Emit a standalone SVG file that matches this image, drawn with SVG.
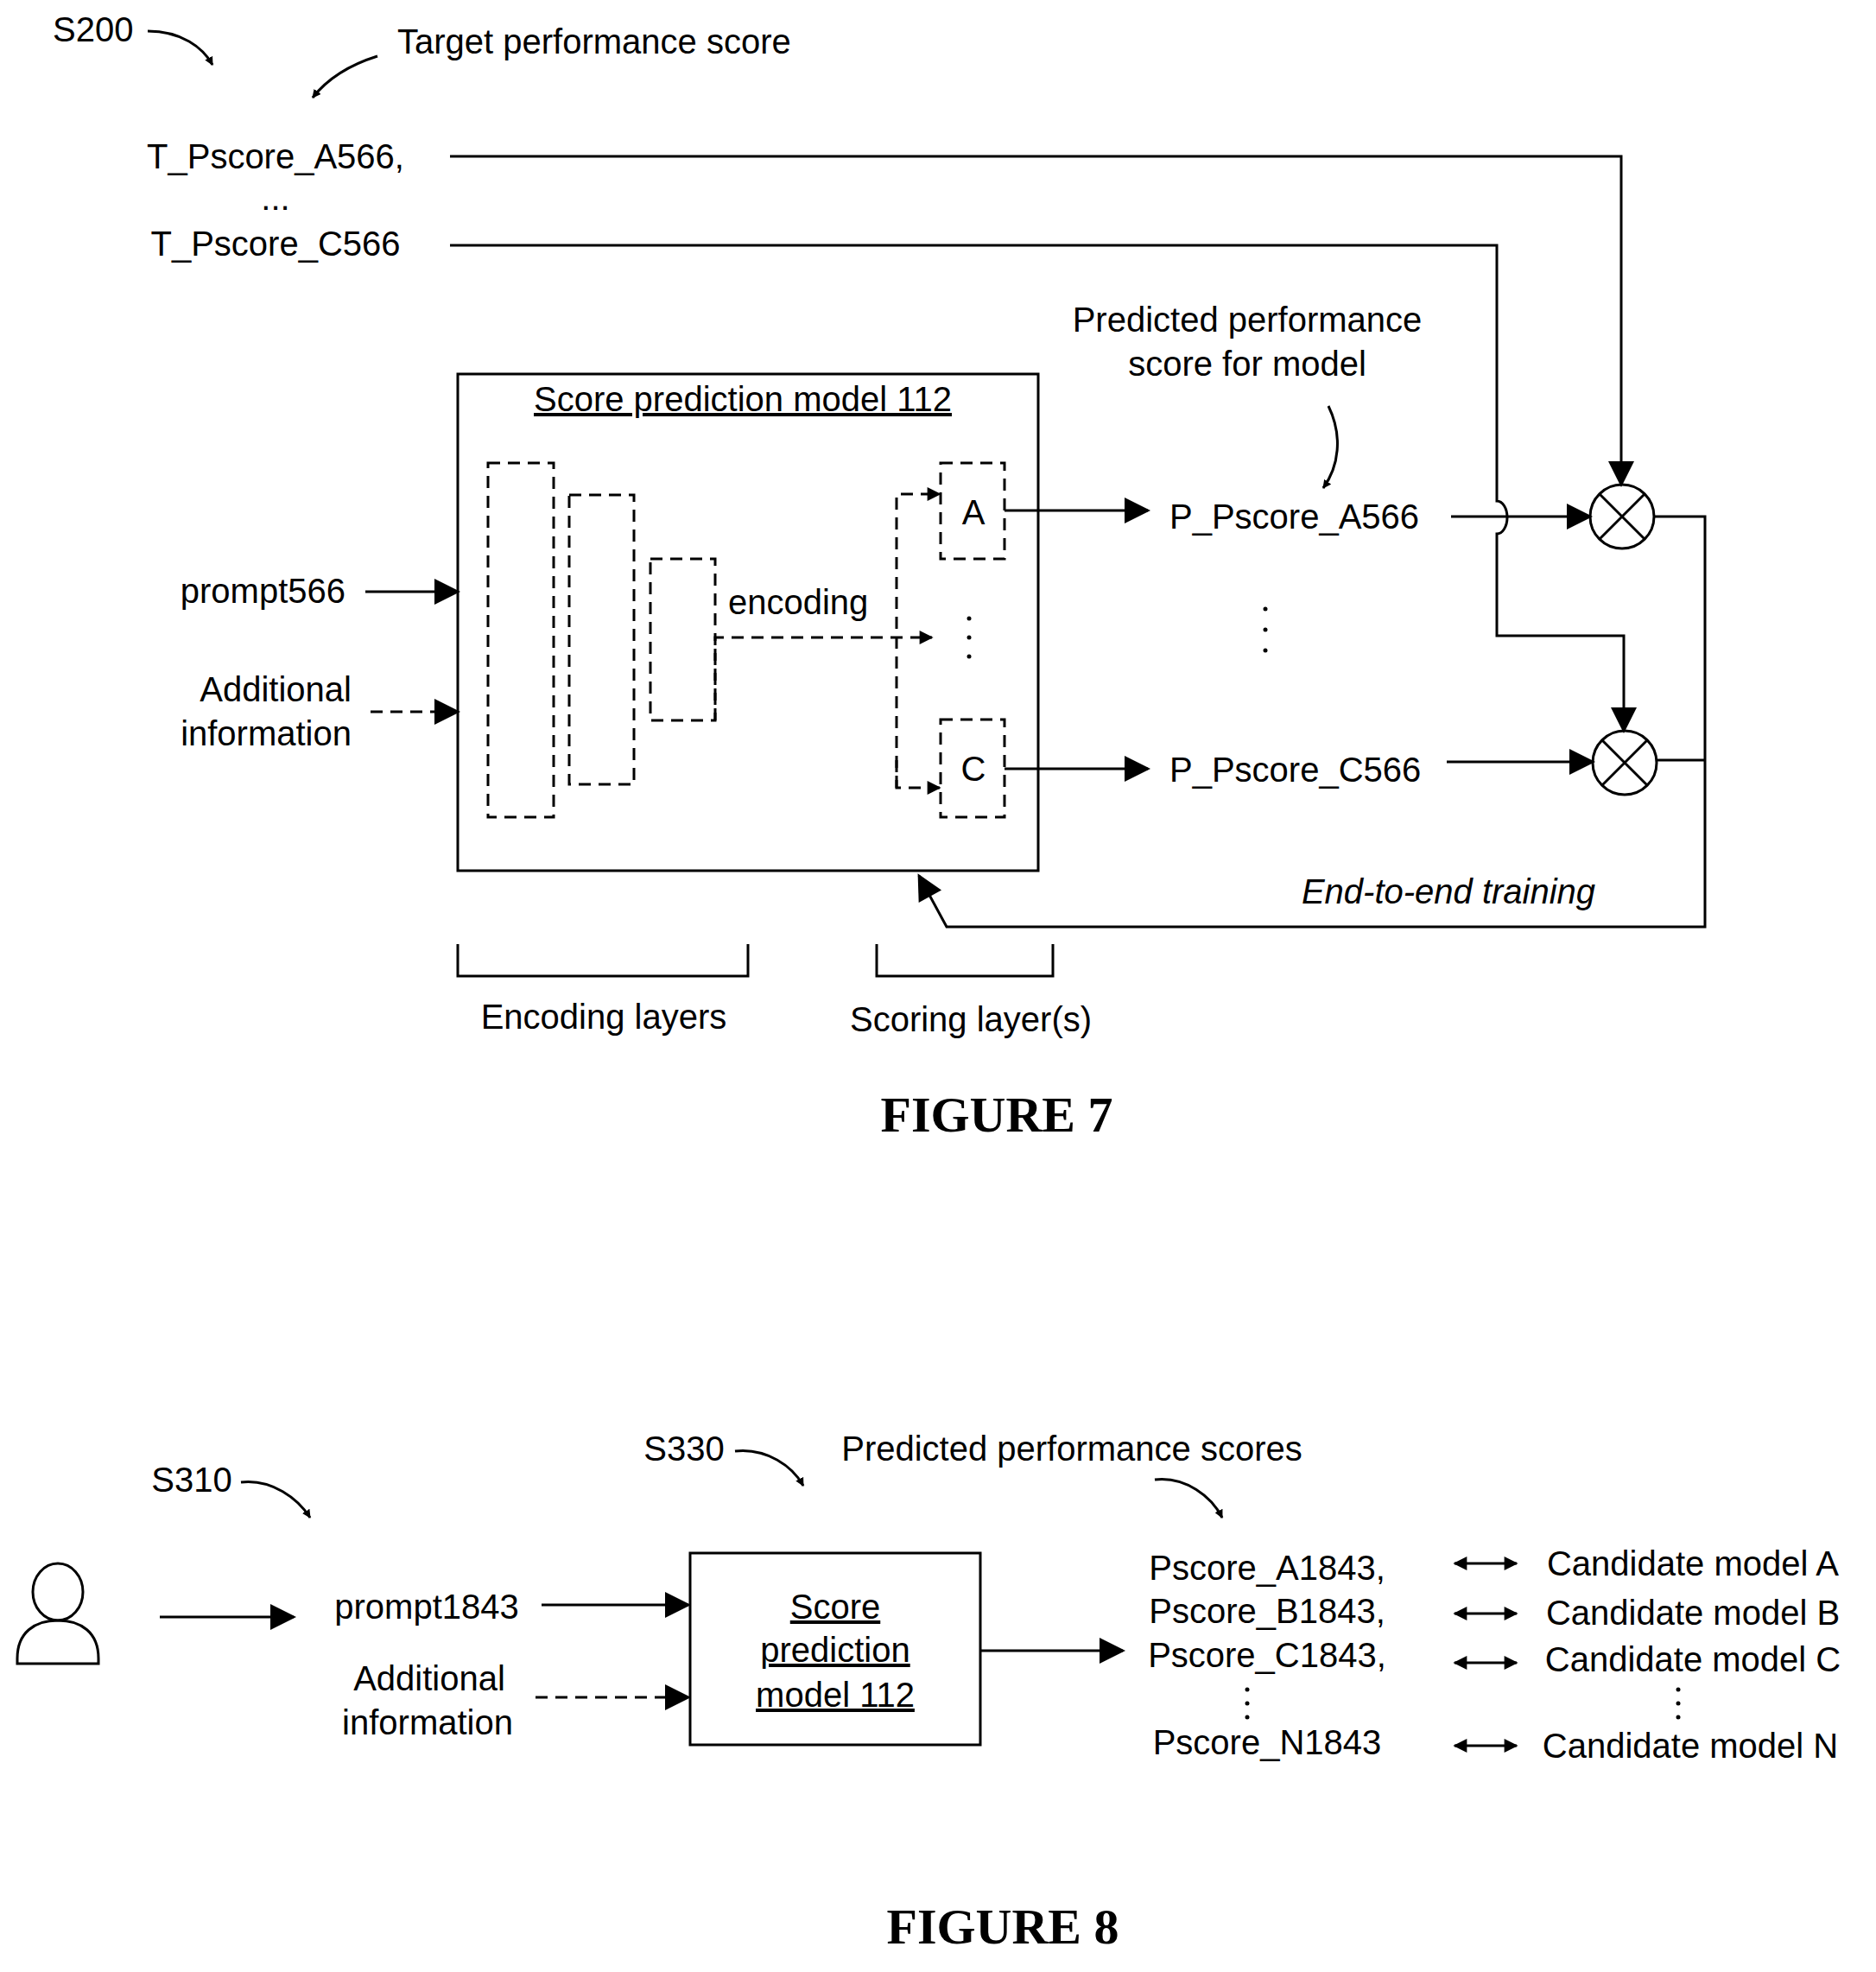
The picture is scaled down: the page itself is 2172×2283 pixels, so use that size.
<svg xmlns="http://www.w3.org/2000/svg" width="2172" height="2283" viewBox="0 0 2172 2283">
<defs>
<marker id="ah" viewBox="0 0 10 10" refX="9" refY="5" markerWidth="10" markerHeight="10" markerUnits="userSpaceOnUse" orient="auto"><path d="M0,0 L10,5 L0,10 z" fill="#000"/></marker>
<marker id="big" viewBox="0 0 10 10" refX="9" refY="5" markerWidth="36" markerHeight="30" markerUnits="userSpaceOnUse" orient="auto"><path d="M0,0 L10,5 L0,10 z" fill="#000"/></marker>
<marker id="sm" viewBox="0 0 10 10" refX="9" refY="5" markerWidth="18" markerHeight="16" markerUnits="userSpaceOnUse" orient="auto-start-reverse"><path d="M0,0 L10,5 L0,10 z" fill="#000"/></marker>
</defs>
<style>
text{font-family:"Liberation Sans",Arial,sans-serif;font-size:40px;fill:#000}
.m{text-anchor:middle}.e{text-anchor:end}
.fig{font-family:"Liberation Serif","Times New Roman",serif;font-weight:bold;font-size:58px}
.l{fill:none;stroke:#000;stroke-width:3}
.d{fill:none;stroke:#000;stroke-width:3;stroke-dasharray:14 9}
.cur{fill:none;stroke:#000;stroke-width:3;marker-end:url(#ah)}
</style>
<rect width="2172" height="2283" fill="#fff"/>
<g id="fig7">
<g id="labels7">
<text x="61" y="48">S200</text>
<text x="460" y="62">Target performance score</text>
<text class="m" x="319" y="195">T_Pscore_A566,</text>
<text class="m" x="319" y="243">...</text>
<text class="m" x="319" y="296">T_Pscore_C566</text>
<text class="m" x="1444" y="384">Predicted performance</text>
<text class="m" x="1444" y="435">score for model</text>
<text class="e" x="400" y="698">prompt566</text>
<text class="e" x="407" y="812">Additional</text>
<text class="e" x="407" y="863">information</text>
<text class="m" x="1677" y="1046" font-style="italic">End-to-end training</text>
<text class="m" x="699" y="1191">Encoding layers</text>
<text class="m" x="1124" y="1194">Scoring layer(s)</text>
<text class="m fig" x="1154" y="1310">FIGURE 7</text>
</g>
<g id="model7">
<rect class="l" x="530" y="433" width="672" height="575"/>
<text class="m" x="860" y="476" text-decoration="underline">Score prediction model 112</text>
<rect class="d" x="565" y="536" width="76" height="410"/>
<rect class="d" x="659" y="573" width="75" height="335"/>
<rect class="d" x="753" y="647" width="75" height="187"/>
<rect class="d" x="1089" y="536" width="74" height="111"/>
<rect class="d" x="1089" y="833" width="74" height="113"/>
<text class="m" x="1127" y="607">A</text>
<text class="m" x="1127" y="904">C</text>
<text x="843" y="711">encoding</text>
<g fill="#000"><circle cx="1122" cy="716" r="2.5"/><circle cx="1122" cy="738" r="2.5"/><circle cx="1122" cy="760" r="2.5"/></g>
</g>
<g id="outputs7">
<text x="1354" y="612">P_Pscore_A566</text>
<text x="1354" y="905">P_Pscore_C566</text>
<g fill="#000"><circle cx="1465" cy="705" r="2.5"/><circle cx="1465" cy="729" r="2.5"/><circle cx="1465" cy="753" r="2.5"/></g>
<g id="mulA"><circle class="l" cx="1878" cy="598" r="37"/><path class="l" d="M1852,572 L1904,624 M1904,572 L1852,624"/></g>
<g id="mulC"><circle class="l" cx="1881" cy="883" r="37"/><path class="l" d="M1855,857 L1907,909 M1907,857 L1855,909"/></g>
<path class="l" d="M530,1093 V1130 H866 V1093"/>
<path class="l" d="M1015,1093 V1130 H1219 V1093"/>
</g>
</g>
<g id="connectors7">
<path class="l" d="M521,181 H1877 V561" marker-end="url(#big)"/>
<path class="l" d="M521,284 H1733 V580 A12,19 0 0 1 1733,618 V736 H1880 V846" marker-end="url(#big)"/>
<path class="l" d="M1680,598 H1841" marker-end="url(#big)"/>
<path class="l" d="M1675,882 H1844" marker-end="url(#big)"/>
<path class="l" d="M423,685 H530" marker-end="url(#big)"/>
<path class="d" d="M429,824 H530" marker-end="url(#big)"/>
<path class="l" d="M1163,591 H1329" marker-end="url(#big)"/>
<path class="l" d="M1163,890 H1329" marker-end="url(#big)"/>
<path class="d" d="M828,834 V738 H1079" marker-end="url(#sm)"/>
<path class="d" d="M1038,912 V572 H1088" marker-end="url(#sm)"/>
<path class="d" d="M1038,880 V912 H1088" marker-end="url(#sm)"/>
<path class="l" d="M1915,598 H1974 V1073 H1096 L1064,1014" marker-end="url(#big)"/>
<path class="l" d="M1918,880 H1974"/>
<path class="cur" d="M171,36 C210,36 235,55 246,75"/>
<path class="cur" d="M437,65 C405,75 380,90 362,113"/>
<path class="cur" d="M1538,470 C1555,505 1550,540 1532,565"/>
</g>
<g id="fig8">
<g id="labels8">
<text class="m" x="222" y="1727">S310</text>
<text class="m" x="792" y="1691">S330</text>
<text class="m" x="1241" y="1691">Predicted performance scores</text>
<text class="m" x="494" y="1874">prompt1843</text>
<text class="m" x="497" y="1957">Additional</text>
<text class="m" x="495" y="2008">information</text>
<text class="m" x="1467" y="1829">Pscore_A1843,</text>
<text class="m" x="1467" y="1879">Pscore_B1843,</text>
<text class="m" x="1467" y="1930">Pscore_C1843,</text>
<text class="m" x="1467" y="2031">Pscore_N1843</text>
<g fill="#000"><circle cx="1444" cy="1956" r="2.5"/><circle cx="1444" cy="1972" r="2.5"/><circle cx="1444" cy="1988" r="2.5"/><circle cx="1943" cy="1956" r="2.5"/><circle cx="1943" cy="1972" r="2.5"/><circle cx="1943" cy="1988" r="2.5"/></g>
<text class="m" x="1960" y="1824">Candidate model A</text>
<text class="m" x="1960" y="1881">Candidate model B</text>
<text class="m" x="1960" y="1935">Candidate model C</text>
<text class="m" x="1957" y="2035">Candidate model N</text>
<text class="m fig" x="1161" y="2250">FIGURE 8</text>
</g>
<g id="user"><ellipse class="l" cx="67" cy="1843" rx="29" ry="33"/><path class="l" d="M20,1926 V1920 C20,1890 40,1876 67,1876 C94,1876 114,1890 114,1920 V1926 Z"/></g>
<g id="model8">
<rect class="l" x="799" y="1798" width="336" height="222"/>
<text class="m" x="967" y="1874" text-decoration="underline">Score</text>
<text class="m" x="967" y="1924" text-decoration="underline">prediction</text>
<text class="m" x="967" y="1976" text-decoration="underline">model 112</text>
</g>
</g>
<g id="connectors8">
<path class="l" d="M185,1872 H340" marker-end="url(#big)"/>
<path class="l" d="M627,1858 H797" marker-end="url(#big)"/>
<path class="d" d="M620,1965 H797" marker-end="url(#big)"/>
<path class="l" d="M1135,1911 H1300" marker-end="url(#big)"/>
<path class="l" d="M1684,1810 H1756" marker-start="url(#sm)" marker-end="url(#sm)"/>
<path class="l" d="M1684,1868 H1756" marker-start="url(#sm)" marker-end="url(#sm)"/>
<path class="l" d="M1684,1925 H1756" marker-start="url(#sm)" marker-end="url(#sm)"/>
<path class="l" d="M1684,2021 H1756" marker-start="url(#sm)" marker-end="url(#sm)"/>
<path class="cur" d="M279,1716 C315,1712 345,1735 359,1757"/>
<path class="cur" d="M851,1680 C888,1676 918,1698 930,1720"/>
<path class="cur" d="M1337,1713 C1373,1709 1403,1733 1415,1757"/>
</g>
</svg>
